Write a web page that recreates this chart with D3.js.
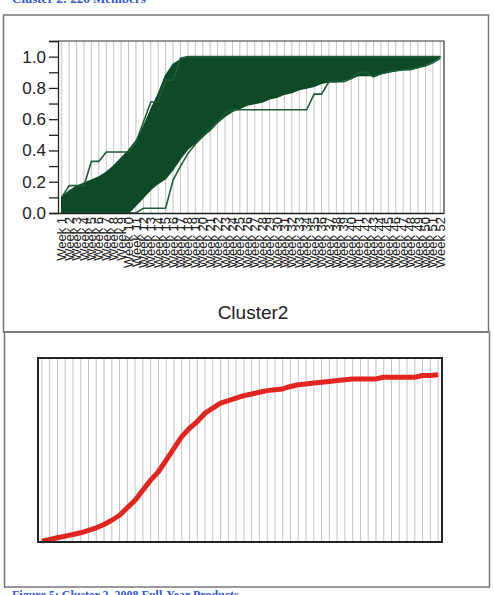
<!DOCTYPE html>
<html>
<head>
<meta charset="utf-8">
<script src="https://cdn.jsdelivr.net/npm/d3@7"></script>
<style>
  body { margin: 0; background: #fff; }
  svg { display: block; }
</style>
</head>
<body>
<svg id="fig" width="494" height="595"></svg>
<script>
// weeks on the x axis
const weeks = d3.range(1, 53).map(i => "Week " + i);

// envelope of the dense bundle of member curves (cumulative share), one value per week
const upperEnv = [
  0.10, 0.14, 0.17, 0.19, 0.21, 0.23, 0.26, 0.30, 0.35, 0.40,   // wk 1-10
  0.46, 0.55, 0.66, 0.76, 0.88, 0.95, 0.98, 1, 1, 1,            // wk 11-20
  1, 1, 1, 1, 1, 1, 1, 1, 1, 1,                                 // wk 21-30
  1, 1, 1, 1, 1, 1, 1, 1, 1, 1,                                 // wk 31-40
  1, 1, 1, 1, 1, 1, 1, 1, 1, 1,                                 // wk 41-50
  1, 1];                                                        // wk 51-52
const lowerEnv = [
  0, 0, 0, 0, 0, 0, 0, 0, 0, 0,
  0.05, 0.10, 0.15, 0.19, 0.22, 0.28, 0.35, 0.41, 0.45, 0.49,
  0.53, 0.58, 0.62, 0.65, 0.67, 0.69, 0.70, 0.71, 0.73, 0.74,
  0.76, 0.77, 0.79, 0.80, 0.81, 0.83, 0.84, 0.84, 0.85, 0.86,
  0.88, 0.88, 0.88, 0.89, 0.90, 0.91, 0.92, 0.92, 0.93, 0.95,
  0.97, 1.0];

// the two members that stand out from the bundle
const earlyMember = [
  0.10, 0.175, 0.175, 0.175, 0.33, 0.33, 0.39, 0.39, 0.39, 0.39,
  0.45, 0.58, 0.71, 0.71, 0.85, 0.85, 0.99, 1, 1, 1,
  1, 1, 1, 1, 1, 1, 1, 1, 1, 1,
  1, 1, 1, 1, 1, 1, 1, 1, 1, 1,
  1, 1, 1, 1, 1, 1, 1, 1, 1, 1,
  1, 1];
const lateMember = [
  0, 0, 0, 0, 0, 0, 0, 0, 0, 0,
  0, 0.03, 0.03, 0.03, 0.03, 0.21, 0.30, 0.38, 0.44, 0.49,
  0.54, 0.58, 0.64, 0.66, 0.66, 0.66, 0.66, 0.66, 0.66, 0.66,
  0.66, 0.66, 0.66, 0.66, 0.76, 0.76, 0.84, 0.84, 0.84, 0.86,
  0.90, 0.90, 0.87, 0.89, 0.905, 0.91, 0.915, 0.917, 0.93, 0.94,
  0.96, 0.99];

// cluster mean curve (bottom chart)
const meanCurve = [
  0.005, 0.015, 0.025, 0.035, 0.045, 0.055, 0.07, 0.085, 0.105, 0.13,
  0.16, 0.205, 0.25, 0.31, 0.37, 0.42, 0.49, 0.56, 0.63, 0.68,
  0.72, 0.77, 0.80, 0.83, 0.845, 0.86, 0.875, 0.885, 0.895, 0.905,
  0.91, 0.915, 0.93, 0.94, 0.945, 0.95, 0.955, 0.96, 0.965, 0.97,
  0.975, 0.975, 0.975, 0.975, 0.985, 0.985, 0.985, 0.985, 0.985, 0.995,
  0.995, 1.0];

const yTicks = d3.range(0, 12).map(i => i / 10);

const svg = d3.select("#fig");
const green = "#0f4a28";

// captions (cut off by the page edges in the scan)
svg.append("text").attr("x", 12).attr("y", 3)
  .attr("font-family", "Liberation Serif, serif").attr("font-weight", "bold")
  .attr("font-size", 13).attr("fill", "#3557d6").text("Cluster 2: 226 Members");
svg.append("text").attr("x", 12).attr("y", 599)
  .attr("font-family", "Liberation Serif, serif").attr("font-weight", "bold")
  .attr("font-size", 12).attr("fill", "#3557d6").text("Figure 5: Cluster 2, 2008 Full-Year Products");

// panel frames
svg.append("rect").attr("x", 3.5).attr("y", 15).attr("width", 485).attr("height", 317)
  .attr("fill", "none").attr("stroke", "#777").attr("stroke-width", 1.5);
svg.append("rect").attr("x", 4.5).attr("y", 332).attr("width", 485).attr("height", 255)
  .attr("fill", "none").attr("stroke", "#777").attr("stroke-width", 1.5);

// ---------- top chart ----------
const x1 = d3.scaleBand().domain(weeks).range([58, 444]);
const y1 = d3.scaleLinear().domain([0, 1.1]).range([213, 41]);
const cx1 = d => x1(d) + x1.bandwidth() / 2;

const g1 = svg.append("g");
g1.selectAll("line.grid").data(weeks).enter().append("line")
  .attr("x1", d => cx1(d)).attr("x2", d => cx1(d))
  .attr("y1", 41).attr("y2", 213)
  .attr("stroke", "#c4c4c4").attr("stroke-width", 1);

const band = d3.area()
  .x(d => cx1(d))
  .y0((d, i) => y1(lowerEnv[i]))
  .y1((d, i) => y1(upperEnv[i]));
g1.append("path").datum(weeks).attr("d", band).attr("fill", green)
  .attr("stroke", green).attr("stroke-width", 1.5).attr("stroke-linejoin", "round");

[earlyMember, lateMember].forEach(s => {
  const ln = d3.line().x(d => cx1(d)).y((d, i) => y1(s[i]));
  g1.append("path").datum(weeks).attr("d", ln)
    .attr("fill", "none").attr("stroke", "#1d5e36").attr("stroke-width", 1.6);
});

// frame top / right
g1.append("path").attr("d", "M58,41H444V213")
  .attr("fill", "none").attr("stroke", "#333").attr("stroke-width", 1.2);

const yAxis = d3.axisLeft(y1).tickValues(yTicks).tickSize(9).tickPadding(3)
  .tickFormat(d => Math.round(d * 10) % 2 === 0 && d <= 1.0 ? d3.format(".1f")(d) : "");
const ya = g1.append("g").attr("transform", "translate(58,0)").call(yAxis);
ya.selectAll("text").attr("font-family", "Liberation Sans, Arial, sans-serif")
  .attr("font-size", 17).attr("fill", "#222");
ya.selectAll("line, path").attr("stroke", "#222").attr("stroke-width", 1.3);

const xAxis = d3.axisBottom(x1).tickSize(0).tickPadding(0);
const xa = g1.append("g").attr("transform", "translate(0,213)").call(xAxis);
xa.select(".domain").attr("stroke", "#222").attr("stroke-width", 1.5);
xa.selectAll("text")
  .attr("font-family", "Liberation Sans, Arial, sans-serif").attr("font-size", 13).attr("fill", "#222")
  .attr("text-anchor", "end").attr("dy", "0.35em")
  .attr("transform", "translate(0,4) rotate(-90)");

svg.append("text").attr("x", 253).attr("y", 319).attr("text-anchor", "middle")
  .attr("font-family", "Liberation Sans, Arial, sans-serif").attr("font-size", 19)
  .attr("fill", "#222").text("Cluster2");

// ---------- bottom chart ----------
const x2 = d3.scaleBand().domain(weeks).range([38, 442]);
const y2 = d3.scaleLinear().domain([0, 1.1]).range([542, 358]);
const cx2 = d => x2(d) + x2.bandwidth() / 2;

const g2 = svg.append("g");
g2.selectAll("line.grid").data(weeks).enter().append("line")
  .attr("x1", d => cx2(d)).attr("x2", d => cx2(d))
  .attr("y1", 358).attr("y2", 542)
  .attr("stroke", "#c4c4c4").attr("stroke-width", 1);

const line2 = d3.line().x(d => cx2(d)).y((d, i) => y2(meanCurve[i]));
g2.append("path").datum(weeks).attr("d", line2)
  .attr("fill", "none").attr("stroke", "#e32522").attr("stroke-width", 5)
  .attr("stroke-linejoin", "round");

g2.append("rect").attr("x", 38).attr("y", 358).attr("width", 404).attr("height", 184)
  .attr("fill", "none").attr("stroke", "#222").attr("stroke-width", 2);
</script>
</body>
</html>
